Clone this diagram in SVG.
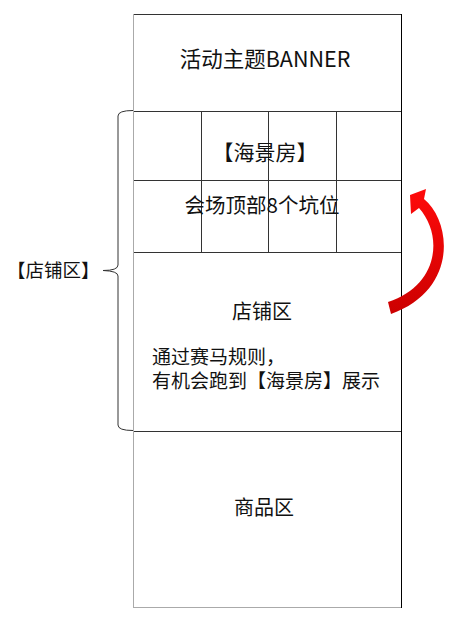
<svg xmlns="http://www.w3.org/2000/svg" width="459" height="619" viewBox="0 0 459 619">
<defs>
<style>
text{font-family:"Noto Sans CJK SC","Noto Sans",sans-serif;fill:#111}
.c{text-anchor:middle;font-size:20px}
.s{font-size:19px}
.ln{stroke:#333;stroke-width:1;fill:none}
.lt{stroke:#aaa;stroke-width:1;fill:none}
</style>
<linearGradient id="rg" x1="0" y1="0" x2="0" y2="1">
<stop offset="0" stop-color="#ff0a0a"/>
<stop offset="1" stop-color="#cc0000"/>
</linearGradient>
</defs>
<rect width="459" height="619" fill="#fff"/>
<g id="banner">
<line class="ln" x1="133" y1="14.5" x2="402" y2="14.5"/>
<text class="c" x="265" y="67" style="font-size:21.5px">活动主题BANNER</text>
</g>
<g id="seaview">
<line class="ln" x1="133" y1="111.5" x2="402" y2="111.5"/>
<line class="ln" x1="133" y1="180.5" x2="402" y2="180.5"/>
<line class="ln" x1="201.5" y1="111" x2="201.5" y2="252"/>
<line class="ln" x1="268.5" y1="111" x2="268.5" y2="252"/>
<line class="ln" x1="336.5" y1="111" x2="336.5" y2="252"/>
<text class="c" x="265" y="160" style="font-size:21px">【海景房】</text>
<text class="c" x="262" y="213" style="font-size:20.5px">会场顶部8个坑位</text>
</g>
<g id="store">
<line class="ln" x1="133" y1="252.5" x2="402" y2="252.5"/>
<text class="c" x="262" y="319">店铺区</text>
<text class="s" x="152" y="364">通过赛马规则，</text>
<text class="s" x="152" y="388">有机会跑到【海景房】展示</text>
</g>
<g id="goods">
<line class="ln" x1="133" y1="431.5" x2="402" y2="431.5"/>
<text class="c" x="264" y="515">商品区</text>
<line class="lt" x1="133" y1="607.5" x2="402" y2="607.5"/>
</g>
<g id="frame">
<line class="lt" x1="133.5" y1="14" x2="133.5" y2="608"/>
<line stroke="#000" stroke-width="1" x1="401.5" y1="14" x2="401.5" y2="608"/>
</g>
<g id="store-label">
<text x="7" y="277" style="font-size:18.5px">【店铺区】</text>
</g>
<g id="connectors">
<path class="ln" d="M133,110.5 Q118,110.5 118,116 L118,265 Q118,270.5 103,270.5 Q118,271 118,276 L118,425 Q118,430.5 133,430.5"/>
<path fill="url(#rg)" d="M410,195 L426,189 L424,199 C452,222 458,290 391,314 L388,302 C438,286 444,236 419,208 L411,214 Z"/>
</g>
</svg>
